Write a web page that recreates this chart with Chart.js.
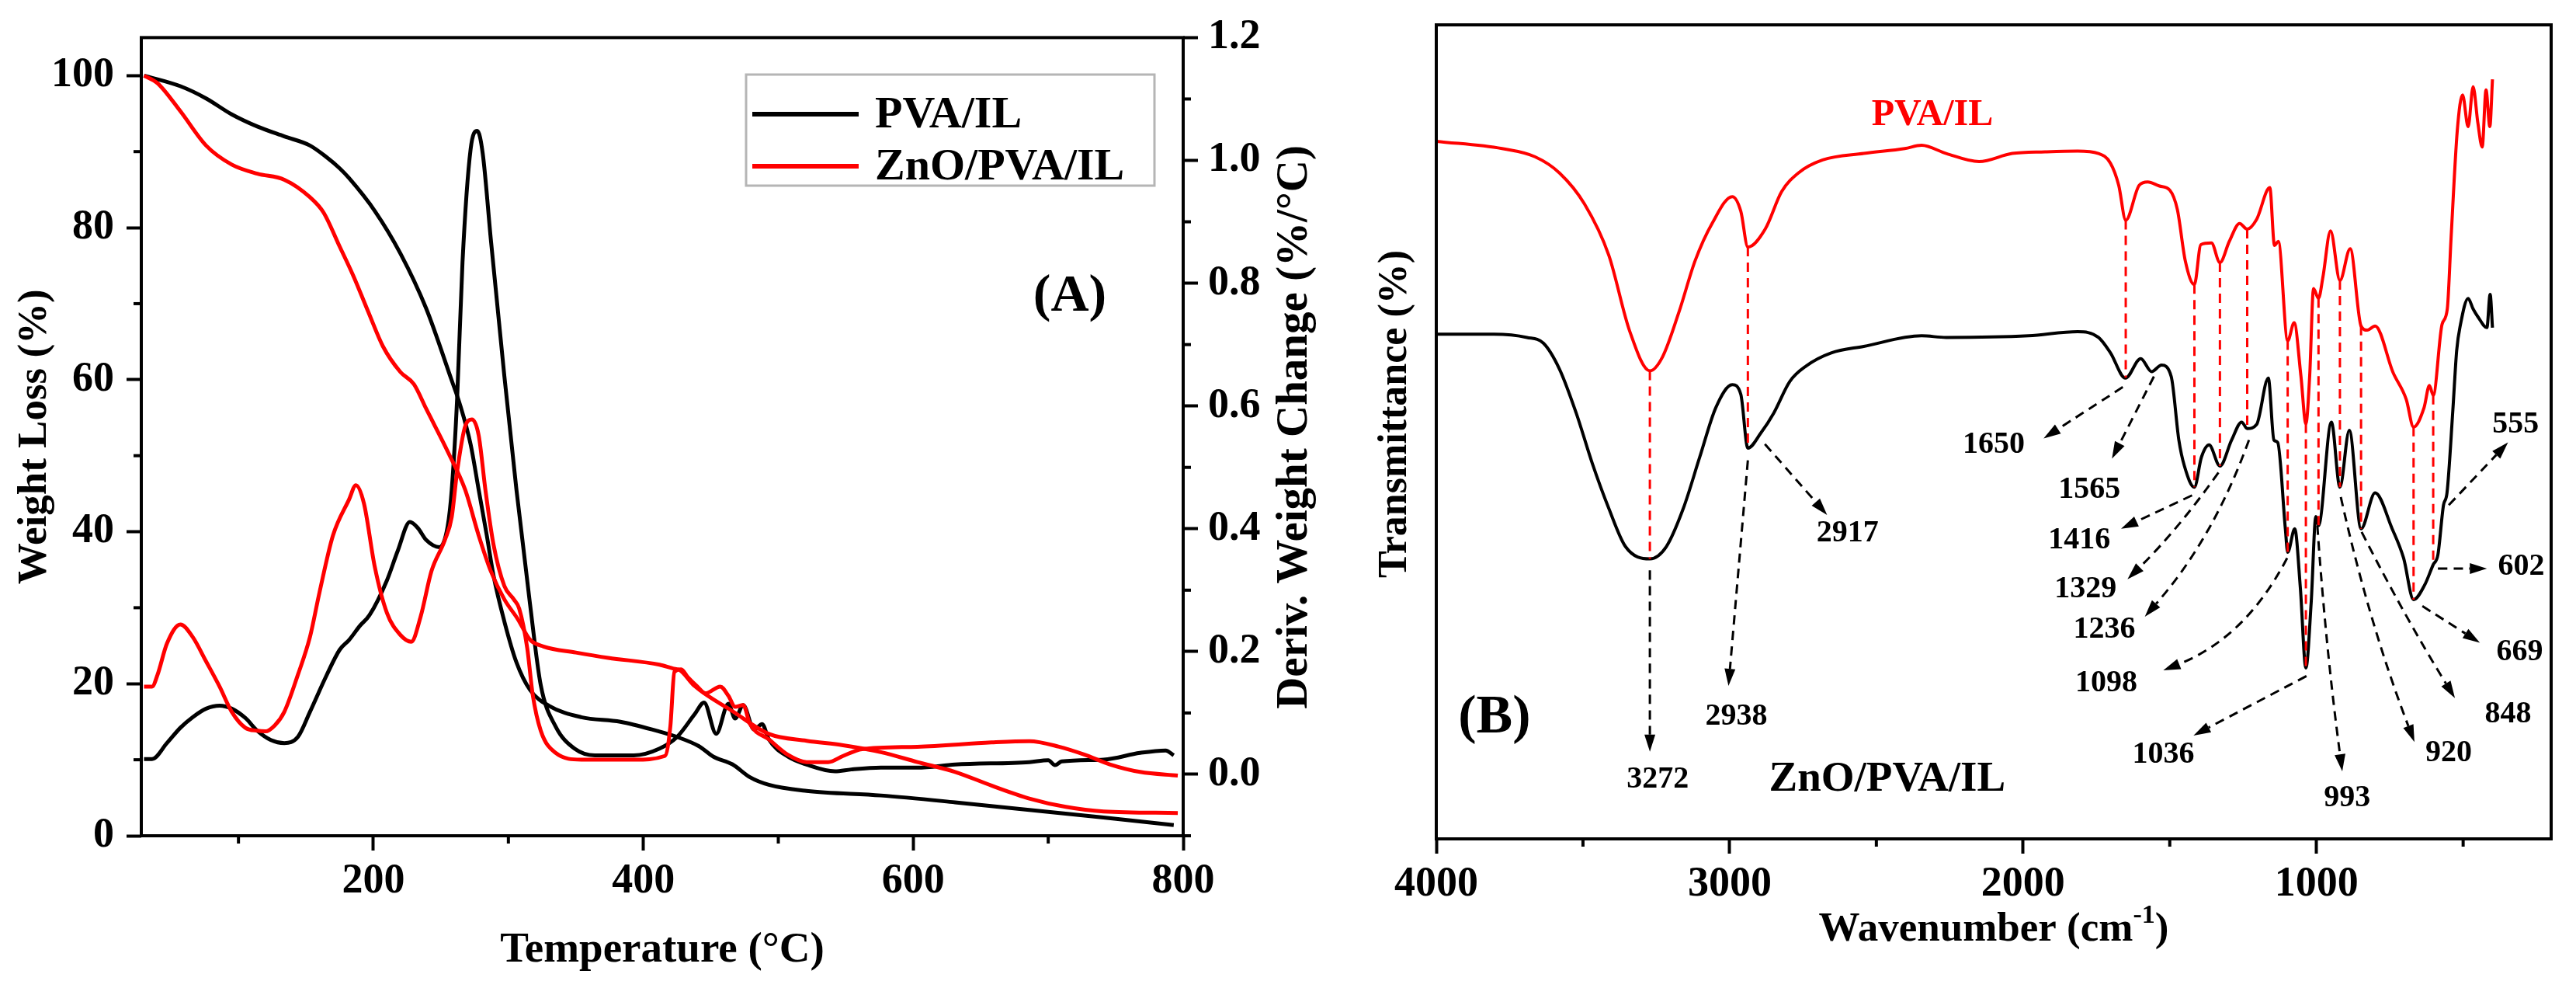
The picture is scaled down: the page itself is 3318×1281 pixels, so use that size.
<!DOCTYPE html>
<html>
<head>
<meta charset="utf-8">
<script src="https://cdn.jsdelivr.net/npm/chart.js@4.4.0/dist/chart.umd.min.js"></script>
<style>
  html, body { margin: 0; padding: 0; background: #fff; }
  body { width: 3318px; height: 1281px; position: relative; overflow: hidden; }
  canvas { position: absolute; top: 0; }
  #tga { left: 0; }
  #ftir { left: 1720px; }
</style>
</head>
<body>
<canvas id="tga" width="1720" height="1281"></canvas>
<canvas id="ftir" width="1598" height="1281"></canvas>
<script>
// ---------- (A) TGA / DTG ----------
const tgaTempPva = [30, 57, 76, 95, 114, 134, 153, 165, 175, 182, 201, 220, 239, 258, 264, 272, 278, 284, 289, 297, 306, 316, 330, 354, 383, 410, 425, 441, 452, 466, 479, 493, 521, 576, 631, 686, 741, 793];
const tgaWeightPva = [100, 98.6, 97, 94.9, 93.3, 92, 90.8, 89.3, 87.8, 86.5, 82.2, 76.6, 69.4, 59.9, 56.8, 51.5, 45.5, 39.5, 34.2, 28.2, 22.8, 19.2, 17.1, 15.6, 15.0, 13.8, 13.0, 11.8, 10.4, 9.4, 7.7, 6.7, 5.9, 5.3, 4.4, 3.4, 2.4, 1.4];

const tgaTempZnO = [30, 40, 57, 76, 95, 114, 134, 153, 163, 175, 185, 196, 207, 220, 230, 239, 256, 268, 278, 287, 297, 307, 316, 326, 350, 374, 412, 422, 427, 438, 466, 493, 521, 548, 576, 603, 631, 658, 686, 713, 741, 796];
const tgaWeightZnO = [100, 99, 95.3, 90.8, 88.3, 87.1, 86.3, 84, 82, 77.5, 73.7, 69, 64.4, 61, 59.4, 56.2, 50.2, 45.5, 39.5, 34.8, 31.1, 28.5, 25.8, 24.9, 24.1, 23.4, 22.5, 22.0, 21.8, 19.7, 16.4, 13.4, 12.5, 11.9, 11.0, 9.7, 8.4, 6.6, 4.9, 3.8, 3.2, 3.0];

const dtgTempPva = [30, 36, 47, 57, 66, 76, 86, 95, 105, 114, 124, 134, 144, 153, 165, 175, 182, 190, 197, 210, 218, 227, 233, 239, 249, 255, 258, 262, 266, 272, 277, 281, 287, 297, 306, 316, 324, 335, 349, 364, 393, 412, 425, 438, 445, 454, 463, 468, 474, 482, 488, 493, 507, 521, 542, 554, 576, 603, 631, 686, 700, 705, 710, 741, 768, 787, 793];
const dtgRatePva = [0.025, 0.025, 0.051, 0.076, 0.093, 0.107, 0.112, 0.107, 0.092, 0.071, 0.056, 0.051, 0.061, 0.102, 0.160, 0.203, 0.219, 0.242, 0.259, 0.316, 0.364, 0.411, 0.401, 0.382, 0.370, 0.404, 0.463, 0.611, 0.834, 1.018, 1.048, 1.011, 0.871, 0.649, 0.463, 0.278, 0.145, 0.078, 0.042, 0.031, 0.031, 0.042, 0.061, 0.098, 0.117, 0.066, 0.115, 0.091, 0.113, 0.073, 0.082, 0.057, 0.029, 0.016, 0.005, 0.008, 0.011, 0.011, 0.016, 0.020, 0.023, 0.015, 0.021, 0.024, 0.035, 0.039, 0.031];

const dtgTempZnO = [30, 36, 40, 47, 57, 66, 76, 86, 95, 105, 114, 120, 127, 134, 144, 153, 160, 170, 182, 187, 193, 201, 210, 220, 228, 235, 243, 253, 258, 262, 268, 273, 278, 283, 289, 297, 304, 308, 314, 318, 324, 335, 354, 393, 416, 420, 423, 428, 433, 440, 446, 457, 463, 468, 474, 479, 493, 507, 521, 537, 548, 562, 603, 658, 686, 708, 727, 746, 768, 796];
const dtgRateZnO = [0.143, 0.143, 0.162, 0.213, 0.244, 0.224, 0.184, 0.143, 0.102, 0.076, 0.071, 0.070, 0.080, 0.102, 0.162, 0.224, 0.296, 0.389, 0.448, 0.471, 0.441, 0.338, 0.263, 0.227, 0.216, 0.257, 0.331, 0.382, 0.419, 0.493, 0.567, 0.578, 0.552, 0.463, 0.374, 0.307, 0.285, 0.270, 0.205, 0.130, 0.071, 0.035, 0.024, 0.024, 0.030, 0.078, 0.167, 0.171, 0.158, 0.143, 0.132, 0.143, 0.128, 0.110, 0.113, 0.082, 0.057, 0.032, 0.020, 0.020, 0.030, 0.041, 0.045, 0.052, 0.054, 0.045, 0.032, 0.016, 0.004, -0.002];

const tempTicks = [200, 400, 600, 800];
const tempMinor = [100, 300, 500, 700];
const weightTicks = [0, 20, 40, 60, 80, 100];
const weightMinor = [10, 30, 50, 70, 90];
const rateTicks = [0, 0.2, 0.4, 0.6, 0.8, 1.0, 1.2];
const rateMinor = [-0.1, 0.1, 0.3, 0.5, 0.7, 0.9, 1.1];

// ---------- (B) FTIR ----------
const irWavePva = [4000, 3776, 3664, 3580, 3495, 3412, 3341, 3272, 3229, 3173, 3118, 3060, 2991, 2962, 2938, 2879, 2823, 2766, 2683, 2543, 2403, 2346, 2262, 2150, 2037, 1925, 1814, 1743, 1702, 1674, 1650, 1604, 1575, 1535, 1500, 1474, 1447, 1416, 1394, 1358, 1329, 1297, 1262, 1236, 1204, 1159, 1143, 1130, 1098, 1076, 1053, 1036, 1023, 1010, 993, 978, 952, 920, 885, 848, 827, 800, 739, 694, 669, 633, 615, 602, 572, 554, 541, 520, 502, 483, 466, 450, 435, 422, 409, 400];
const irTransPva = [85.7, 84.8, 83.8, 81.8, 78, 71.7, 62.4, 57.5, 59.2, 64.7, 71, 75.6, 78.9, 77.1, 72.7, 74.9, 79.5, 81.8, 83.4, 84.2, 84.8, 85.2, 84.2, 83.2, 84.2, 84.4, 84.5, 84.2, 83, 80.3, 76, 80.3, 80.7, 80.2, 79.7, 77.3, 71, 68.1, 73, 73.2, 70.8, 73.4, 75.6, 74.9, 76.1, 80, 72.9, 73.4, 61.2, 63.4, 56.9, 51, 56.9, 67.6, 66.4, 69, 74.7, 68.6, 72.5, 63, 62.5, 63, 57.3, 54, 50.6, 53, 55.7, 54.5, 63.2, 65.1, 73.9, 87, 91.4, 87.5, 92.4, 88, 85, 92, 87.5, 93.3];

const irWaveZnO = [4000, 3804, 3691, 3635, 3580, 3523, 3468, 3412, 3355, 3272, 3216, 3158, 3102, 3047, 2991, 2962, 2938, 2893, 2850, 2795, 2739, 2654, 2543, 2346, 2262, 1981, 1814, 1743, 1702, 1651, 1599, 1562, 1528, 1495, 1469, 1450, 1416, 1392, 1366, 1329, 1289, 1255, 1236, 1204, 1164, 1145, 1132, 1106, 1098, 1074, 1055, 1036, 1018, 1002, 993, 949, 920, 888, 848, 800, 742, 703, 669, 631, 602, 586, 567, 555, 535, 522, 509, 483, 466, 449, 419, 408, 400];
const irTransZnO = [62, 62, 61.6, 60.9, 57.7, 52.3, 46.1, 40.6, 35.9, 34.4, 35.9, 40.6, 46.9, 53, 55.8, 54.6, 48, 49.9, 52.3, 56.2, 58.1, 59.7, 60.5, 61.8, 61.6, 61.8, 62.3, 61.6, 59.7, 56.6, 59, 57.4, 58.2, 56.8, 49, 45.8, 43.2, 46.9, 48.4, 45.8, 49, 51.2, 50.4, 50.9, 56.6, 49, 48.7, 38.1, 35.2, 38.1, 30.9, 21, 29, 39.6, 38.5, 51.2, 43.2, 50.2, 38.1, 42.5, 38.1, 34.5, 29.4, 31.2, 33.7, 34.9, 41, 42.5, 52.7, 60, 63.2, 66.4, 65.1, 64.1, 62.8, 66.9, 62.8];

const waveTicks = [4000, 3000, 2000, 1000];
const waveMinor = [3500, 2500, 1500, 500];
// bands joined by the red dashed drop lines
const markedBands = [3272, 2938, 1650, 1416, 1329, 1236, 1098, 1036, 993, 920, 848, 669, 602];

const RED = '#ff0000';
const serif = "'Liberation Serif', 'Times New Roman', serif";
Chart.defaults.font.family = serif;
Chart.defaults.font.weight = 'bold';
Chart.defaults.color = '#000';

function pts(xs, ys) {
    return xs.map((x, i) => ({ x: x, y: ys[i] }));
}

function valueAt(xs, ys, w) {
    for (let i = 0; i < xs.length - 1; i++) {
        const a = xs[i], b = xs[i + 1];
        if ((w <= a && w >= b) || (w >= a && w <= b)) {
            const t = (w - a) / (b - a);
            return ys[i] + t * (ys[i + 1] - ys[i]);
        }
    }
    return ys[ys.length - 1];
}

function bold(size) {
    return { family: serif, size: size, weight: 'bold' };
}

const tickGrid = { drawOnChartArea: false, tickLength: 19, tickWidth: 4, color: '#000' };

function fixedTicks(list) {
    return scale => { scale.ticks = list.map(v => ({ value: v })); };
}

// frame, minor ticks, free texts and custom titles
const decorPlugin = {
    id: 'decor',
    afterDraw(chart, args, opts) {
        const { ctx, chartArea: a, scales } = chart;
        ctx.save();
        ctx.strokeStyle = '#000';
        ctx.lineWidth = 4;
        ctx.setLineDash([]);
        Object.keys(opts.minor || {}).forEach(id => {
            const s = scales[id];
            opts.minor[id].forEach(v => {
                const p = s.getPixelForValue(v);
                ctx.beginPath();
                if (s.isHorizontal()) {
                    ctx.moveTo(p, a.bottom); ctx.lineTo(p, a.bottom + 10);
                } else if (s.position === 'left') {
                    ctx.moveTo(a.left, p); ctx.lineTo(a.left - 10, p);
                } else {
                    ctx.moveTo(a.right, p); ctx.lineTo(a.right + 10, p);
                }
                ctx.stroke();
            });
        });
        ctx.strokeRect(a.left, a.top, a.right - a.left, a.bottom - a.top);

        ctx.textAlign = 'center';
        ctx.textBaseline = 'middle';
        (opts.texts || []).forEach(t => {
            ctx.fillStyle = t.color || '#000';
            ctx.font = 'bold ' + t.size + 'px ' + serif;
            ctx.fillText(t.text, scales.x.getPixelForValue(t.x), scales[t.axis || 'y'].getPixelForValue(t.y));
        });
        (opts.vtitles || []).forEach(t => {
            ctx.save();
            ctx.translate(t.px, t.py);
            ctx.rotate(-Math.PI / 2);
            ctx.fillStyle = '#000';
            ctx.font = 'bold ' + t.size + 'px ' + serif;
            ctx.fillText(t.text, 0, 0);
            ctx.restore();
        });
        if (opts.xtitle) {
            const parts = opts.xtitle.parts;
            let total = 0;
            parts.forEach(p => {
                ctx.font = 'bold ' + p.size + 'px ' + serif;
                p.w = ctx.measureText(p.text).width;
                total += p.w;
            });
            let x = (a.left + a.right) / 2 - total / 2;
            ctx.textAlign = 'left';
            ctx.fillStyle = '#000';
            parts.forEach(p => {
                ctx.font = 'bold ' + p.size + 'px ' + serif;
                ctx.fillText(p.text, x, opts.xtitle.py + (p.rise || 0));
                x += p.w;
            });
        }
        ctx.restore();
    }
};

const legendPlugin = {
    id: 'boxLegend',
    afterDraw(chart, args, opts) {
        if (!opts.items) return;
        const ctx = chart.ctx;
        const b = opts.box;
        ctx.save();
        ctx.strokeStyle = '#b5b5b5';
        ctx.lineWidth = 3;
        ctx.strokeRect(b.left, b.top, b.right - b.left, b.bottom - b.top);
        opts.items.forEach((idx, i) => {
            const ds = chart.data.datasets[idx];
            const y = opts.rows[i];
            ctx.strokeStyle = ds.borderColor;
            ctx.lineWidth = 6;
            ctx.beginPath();
            ctx.moveTo(opts.lineFrom, y);
            ctx.lineTo(opts.lineTo, y);
            ctx.stroke();
            ctx.fillStyle = '#000';
            ctx.font = 'bold ' + opts.size + 'px ' + serif;
            ctx.textAlign = 'left';
            ctx.textBaseline = 'middle';
            ctx.fillText(ds.label, opts.textX, y + 2);
        });
        ctx.restore();
    }
};

// red drop lines between the two spectra, black dashed arrows to band labels
const bandPlugin = {
    id: 'bands',
    afterDatasetsDraw(chart, args, opts) {
        const { ctx, scales: { x, y } } = chart;
        ctx.save();
        ctx.strokeStyle = RED;
        ctx.lineWidth = 3;
        ctx.setLineDash([12, 8]);
        markedBands.forEach(w => {
            const px = x.getPixelForValue(w);
            ctx.beginPath();
            ctx.moveTo(px, y.getPixelForValue(valueAt(irWavePva, irTransPva, w)));
            ctx.lineTo(px, y.getPixelForValue(valueAt(irWaveZnO, irTransZnO, w)));
            ctx.stroke();
        });

        opts.notes.forEach(n => {
            const x0 = x.getPixelForValue(n.from[0]), y0 = y.getPixelForValue(n.from[1]);
            const x1 = x.getPixelForValue(n.tip[0]), y1 = y.getPixelForValue(n.tip[1]);
            const dx = x1 - x0, dy = y1 - y0, len = Math.hypot(dx, dy);
            const cx = (x0 + x1) / 2 - dy / len * n.bend;
            const cy = (y0 + y1) / 2 + dx / len * n.bend;
            let ux = x1 - cx, uy = y1 - cy;
            const ul = Math.hypot(ux, uy);
            ux /= ul; uy /= ul;
            const hl = 22, hw = 7;
            ctx.strokeStyle = '#000';
            ctx.lineWidth = 3;
            ctx.setLineDash([12, 8]);
            ctx.beginPath();
            ctx.moveTo(x0, y0);
            ctx.quadraticCurveTo(cx, cy, x1 - ux * hl, y1 - uy * hl);
            ctx.stroke();
            ctx.setLineDash([]);
            ctx.fillStyle = '#000';
            ctx.beginPath();
            ctx.moveTo(x1, y1);
            ctx.lineTo(x1 - ux * hl - uy * hw, y1 - uy * hl + ux * hw);
            ctx.lineTo(x1 - ux * hl + uy * hw, y1 - uy * hl - ux * hw);
            ctx.closePath();
            ctx.fill();
            ctx.font = 'bold 40px ' + serif;
            ctx.textAlign = 'center';
            ctx.textBaseline = 'middle';
            ctx.fillText(n.text, x.getPixelForValue(n.at[0]), y.getPixelForValue(n.at[1]));
        });
        ctx.restore();
    }
};

const lineStyle = { borderWidth: 5, cubicInterpolationMode: 'monotone', fill: false };

new Chart(document.getElementById('tga'), {
    type: 'line',
    data: {
        datasets: [
            Object.assign({ label: 'ZnO/PVA/IL', data: pts(dtgTempZnO, dtgRateZnO), borderColor: RED, yAxisID: 'y1' }, lineStyle),
            Object.assign({ label: 'ZnO/PVA/IL', data: pts(tgaTempZnO, tgaWeightZnO), borderColor: RED, yAxisID: 'y' }, lineStyle),
            Object.assign({ label: 'PVA/IL', data: pts(dtgTempPva, dtgRatePva), borderColor: '#000', yAxisID: 'y1' }, lineStyle),
            Object.assign({ label: 'PVA/IL', data: pts(tgaTempPva, tgaWeightPva), borderColor: '#000', yAxisID: 'y' }, lineStyle)
        ]
    },
    options: {
        responsive: false,
        animation: false,
        devicePixelRatio: 1,
        layout: { padding: { top: 34, left: 0, right: 0, bottom: 0 } },
        elements: { point: { radius: 0 } },
        plugins: {
            legend: { display: false },
            tooltip: { enabled: false },
            decor: {
                minor: { x: tempMinor, y: weightMinor, y1: rateMinor },
                texts: [{ text: '(A)', x: 716, y: 70.9, size: 68 }],
                vtitles: [{ text: 'Deriv. Weight Change (%/°C)', px: 1668, py: 550, size: 57 }]
            },
            boxLegend: {
                items: [3, 1],
                box: { left: 961, top: 96, right: 1487, bottom: 239 },
                rows: [147, 214],
                lineFrom: 969, lineTo: 1106, textX: 1127, size: 58
            }
        },
        scales: {
            x: {
                type: 'linear', min: 28, max: 800,
                afterBuildTicks: fixedTicks(tempTicks),
                afterFit: s => { s.height = 205; },
                grid: tickGrid,
                border: { display: false },
                ticks: { font: bold(54), color: '#000', padding: 8, maxRotation: 0, autoSkip: false },
                title: { display: true, text: 'Temperature (°C)', font: bold(55), color: '#000', padding: { top: 0, bottom: 24 } }
            },
            y: {
                position: 'left', min: 0, max: 105,
                afterBuildTicks: fixedTicks(weightTicks),
                afterFit: s => { s.width = 182; },
                grid: tickGrid,
                border: { display: false },
                ticks: { font: bold(54), color: '#000', padding: 16, autoSkip: false },
                title: { display: true, text: 'Weight Loss (%)', font: bold(53), color: '#000', padding: { top: 14, bottom: 0 } }
            },
            y1: {
                position: 'right', min: -0.1, max: 1.2,
                afterBuildTicks: fixedTicks(rateTicks),
                afterFit: s => { s.width = 196; },
                grid: tickGrid,
                border: { display: false },
                ticks: { font: bold(54), color: '#000', padding: 13, autoSkip: false, callback: v => v.toFixed(1) }
            }
        }
    },
    plugins: [decorPlugin, legendPlugin]
});

new Chart(document.getElementById('ftir'), {
    type: 'line',
    data: {
        datasets: [
            Object.assign({ label: 'PVA/IL', data: pts(irWavePva, irTransPva), borderColor: RED }, lineStyle, { borderWidth: 4 }),
            Object.assign({ label: 'ZnO/PVA/IL', data: pts(irWaveZnO, irTransZnO), borderColor: '#000' }, lineStyle, { borderWidth: 4 })
        ]
    },
    options: {
        responsive: false,
        animation: false,
        devicePixelRatio: 1,
        layout: { padding: { top: 32, left: 0, right: 32, bottom: 0 } },
        elements: { point: { radius: 0 } },
        plugins: {
            legend: { display: false },
            tooltip: { enabled: false },
            decor: {
                minor: { x: waveMinor },
                texts: [
                    { text: 'PVA/IL', x: 2309, y: 88.9, size: 48, color: RED },
                    { text: 'ZnO/PVA/IL', x: 2463, y: 7.3, size: 55 },
                    { text: '(B)', x: 3802, y: 14.8, size: 70 }
                ],
                vtitles: [{ text: 'Transmittance (%)', px: 78, py: 533, size: 52 }],
                xtitle: {
                    py: 1197,
                    parts: [
                        { text: 'Wavenumber (cm', size: 53 },
                        { text: '-1', size: 34, rise: -18 },
                        { text: ')', size: 53 }
                    ]
                }
            },
            bands: {
                notes: [
                    { text: '3272', from: [3272, 33], tip: [3272, 10.7], at: [3245, 7.3], bend: 0 },
                    { text: '2938', from: [2938, 46.5], tip: [3004, 18.8], at: [2977, 15], bend: 0 },
                    { text: '2917', from: [2880, 48.5], tip: [2668, 39.8], at: [2598, 37.5], bend: 0 },
                    { text: '1650', from: [1660, 55.5], tip: [1930, 49.2], at: [2100, 48.4], bend: 0 },
                    { text: '1565', from: [1554, 56.8], tip: [1697, 46.7], at: [1774, 42.9], bend: 0 },
                    { text: '1416', from: [1424, 42.2], tip: [1666, 38.1], at: [1808, 36.7], bend: 0 },
                    { text: '1329', from: [1334, 45], tip: [1644, 31.9], at: [1787, 30.7], bend: -8 },
                    { text: '1236', from: [1230, 49], tip: [1585, 27.3], at: [1723, 25.7], bend: -25 },
                    { text: '1098', from: [1100, 34.5], tip: [1522, 20.7], at: [1716, 19.1], bend: -40 },
                    { text: '1036', from: [1034, 20], tip: [1419, 12.7], at: [1522, 10.3], bend: 0 },
                    { text: '993', from: [997, 38.5], tip: [912, 8.3], at: [895, 5.0], bend: 5 },
                    { text: '920', from: [917, 42], tip: [666, 11.9], at: [549, 10.5], bend: 12 },
                    { text: '848', from: [846, 37.7], tip: [528, 17.3], at: [347, 15.3], bend: 5 },
                    { text: '669', from: [639, 28.6], tip: [443, 24.1], at: [307, 22.9], bend: 0 },
                    { text: '602', from: [586, 33.2], tip: [419, 33.2], at: [302, 33.4], bend: 0 },
                    { text: '555', from: [549, 41], tip: [347, 48.7], at: [321, 50.9], bend: 0 }
                ]
            }
        },
        scales: {
            x: {
                type: 'linear', reverse: true, min: 200, max: 4000,
                afterBuildTicks: fixedTicks(waveTicks),
                afterFit: s => { s.height = 201; },
                grid: tickGrid,
                border: { display: false },
                ticks: { font: bold(54), color: '#000', padding: 8, maxRotation: 0, autoSkip: false, callback: v => String(v) }
            },
            y: {
                min: 0, max: 100,
                afterFit: s => { s.width = 130; },
                grid: { display: false },
                border: { display: false },
                ticks: { display: false }
            }
        }
    },
    plugins: [bandPlugin, decorPlugin]
});
</script>
</body>
</html>
